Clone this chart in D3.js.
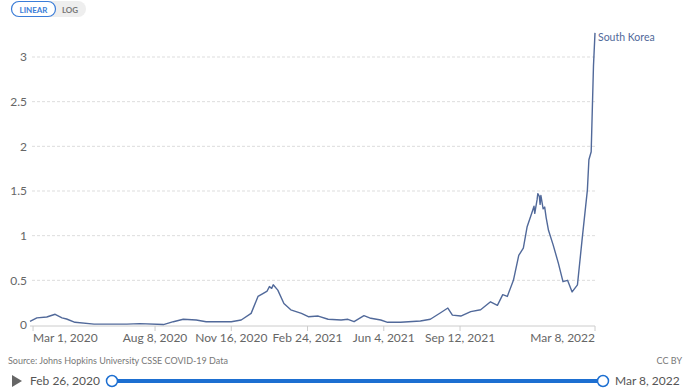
<!DOCTYPE html>
<html><head><meta charset="utf-8">
<script src="https://cdn.jsdelivr.net/npm/d3@7"></script>
<style>body{margin:0;background:#fff;font-family:Lato,"Open Sans",sans-serif;}svg{display:block}</style>
</head><body><svg id="c" width="690" height="388"></svg>
<script>
const dates = ["2020-02-26","2020-03-06","2020-03-19","2020-03-30","2020-04-08","2020-04-14","2020-04-25","2020-05-20","2020-07-02","2020-07-19","2020-08-19","2020-09-01","2020-09-14","2020-10-01","2020-10-14","2020-11-06","2020-11-16","2020-11-29","2020-12-12","2020-12-21","2020-12-28","2021-01-02","2021-01-05","2021-01-08","2021-01-10","2021-01-16","2021-01-24","2021-02-02","2021-02-16","2021-02-25","2021-03-10","2021-03-23","2021-04-09","2021-04-18","2021-04-26","2021-05-09","2021-05-18","2021-05-31","2021-06-09","2021-06-26","2021-07-22","2021-08-04","2021-08-18","2021-08-27","2021-09-02","2021-09-13","2021-09-26","2021-10-09","2021-10-22","2021-10-31","2021-11-07","2021-11-13","2021-11-21","2021-11-28","2021-12-04","2021-12-09","2021-12-15","2021-12-18","2021-12-19","2021-12-22","2021-12-23","2021-12-25","2021-12-26","2021-12-27","2021-12-30","2022-01-01","2022-01-03","2022-01-06","2022-01-12","2022-01-19","2022-01-25","2022-01-31","2022-02-06","2022-02-13","2022-02-19","2022-02-26","2022-02-28","2022-03-03","2022-03-06","2022-03-08"];
const values = [0.04,0.08,0.09,0.12,0.08,0.067,0.03,0.01,0.01,0.015,0.005,0.037,0.064,0.056,0.037,0.037,0.037,0.056,0.13,0.32,0.355,0.38,0.43,0.41,0.45,0.39,0.24,0.17,0.13,0.093,0.1,0.064,0.056,0.064,0.037,0.104,0.075,0.056,0.03,0.03,0.045,0.064,0.14,0.19,0.11,0.1,0.15,0.17,0.26,0.22,0.34,0.32,0.5,0.78,0.86,1.1,1.25,1.33,1.25,1.4,1.47,1.44,1.35,1.45,1.3,1.32,1.2,1.06,0.9,0.69,0.485,0.5,0.37,0.45,0.95,1.51,1.85,1.94,2.9,3.27];
const yTicks = [0,0.5,1,1.5,2,2.5,3];
const xTickDates = ["2020-03-01","2020-08-08","2020-11-16","2021-02-24","2021-06-04","2021-09-12","2022-03-08"];
const seriesName = "South Korea";
const startLabel = "Feb 26, 2020", endLabel = "Mar 8, 2022";

const parse = d3.utcParse("%Y-%m-%d");
const fmt = d3.utcFormat("%b %-d, %Y");
const data = dates.map((d,i)=>({date:parse(d), v:values[i]}));
const svg = d3.select("#c");
const x = d3.scaleUtc().domain([parse("2020-02-26"), parse("2022-03-08")]).range([30,595]);
const y = d3.scaleLinear().domain([0,3]).range([325,57]);

yTicks.forEach(t=>{
  if(t>0) svg.append("line").attr("x1",32).attr("x2",595).attr("y1",y(t)).attr("y2",y(t))
    .attr("stroke","#ddd").attr("stroke-dasharray","3,2");
  svg.append("text").attr("x",27).attr("y",y(t)).attr("dy","0.35em").attr("text-anchor","end")
    .attr("font-size",12).attr("fill","#666").text(d3.format("~g")(t));
});
svg.append("line").attr("x1",30).attr("x2",595).attr("y1",326).attr("y2",326).attr("stroke","#ccc");
xTickDates.forEach((d,i)=>{
  const xx = x(parse(d));
  svg.append("line").attr("x1",xx).attr("x2",xx).attr("y1",326).attr("y2",331).attr("stroke","#ccc");
  svg.append("text").attr("x", i===0 ? 33 : xx).attr("y",342)
    .attr("text-anchor", i===0 ? "start" : (i===xTickDates.length-1 ? "end":"middle"))
    .attr("font-size",12).attr("fill","#666").text(fmt(parse(d)));
});
svg.append("path").datum(data).attr("fill","none").attr("stroke","#51699a").attr("stroke-width",1.4)
  .attr("stroke-linejoin","round")
  .attr("d", d3.line().x(d=>x(d.date)).y(d=>y(d.v)));
svg.append("text").attr("x",598).attr("y",41).attr("font-size",10.5).attr("fill","#51699a").text(seriesName);

const b = svg.append("g");
b.append("rect").attr("x",11).attr("y",1).attr("width",75).attr("height",16).attr("rx",8).attr("fill","#eee");
b.append("rect").attr("x",11.5).attr("y",1.5).attr("width",44).attr("height",15).attr("rx",7.5).attr("fill","#fff").attr("stroke","#3b7dd8").attr("stroke-width",1.2);
b.append("text").attr("x",33.5).attr("y",12.5).attr("text-anchor","middle").attr("font-size",8).attr("font-weight","bold").attr("fill","#3b7dd8").text("LINEAR");
b.append("text").attr("x",70).attr("y",12.5).attr("text-anchor","middle").attr("font-size",8).attr("font-weight","bold").attr("fill","#777").text("LOG");

svg.append("text").attr("x",8).attr("y",364).attr("font-size",9).attr("fill","#777").text("Source: Johns Hopkins University CSSE COVID-19 Data");
svg.append("text").attr("x",682).attr("y",364).attr("text-anchor","end").attr("font-size",9).attr("fill","#777").text("CC BY");

svg.append("path").attr("d","M12,375 L22,381 L12,387 Z").attr("fill","#666");
svg.append("text").attr("x",30).attr("y",381).attr("dy","0.35em").attr("font-size",12).attr("fill","#555").text(startLabel);
svg.append("line").attr("x1",112).attr("x2",603).attr("y1",381).attr("y2",381).attr("stroke","#1d6fd1").attr("stroke-width",4);
[112,603].forEach(cx=>svg.append("circle").attr("cx",cx).attr("cy",381).attr("r",5.5).attr("fill","#fff").attr("stroke","#1d6fd1").attr("stroke-width",1.5));
svg.append("text").attr("x",615).attr("y",381).attr("dy","0.35em").attr("font-size",12).attr("fill","#555").text(endLabel);
</script></body></html>
